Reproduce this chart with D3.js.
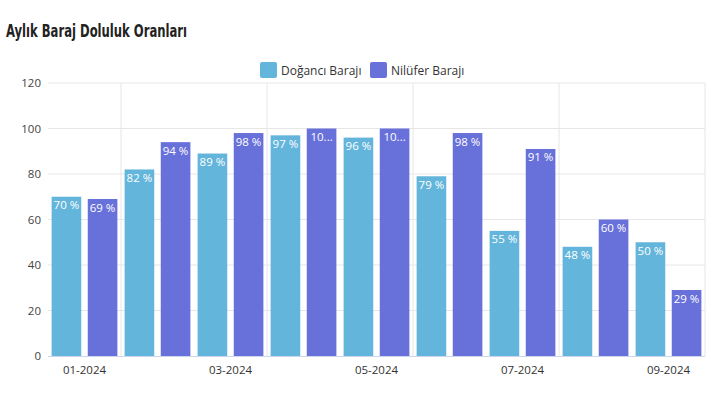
<!DOCTYPE html>
<html>
<head>
<meta charset="utf-8">
<script src="https://cdn.jsdelivr.net/npm/d3@7"></script>
<style>
  body { margin: 0; background: #fff; }
  svg { font-family: "Open Sans", "Noto Sans", sans-serif; }
</style>
</head>
<body>
<div id="chart"></div>
<script>
const months = ["01-2024", "02-2024", "03-2024", "04-2024", "05-2024", "06-2024", "07-2024", "08-2024", "09-2024"];
const seriesNames = ["Doğancı Barajı", "Nilüfer Barajı"];
const dogancı = [70, 82, 89, 97, 96, 79, 55, 48, 50];
const nilufer = [69, 94, 98, 100, 100, 98, 91, 60, 29];
const yTicks = [0, 20, 40, 60, 80, 100, 120];
const colors = ["#64b5db", "#6870da"];

const width = 720, height = 416;
const margin = { top: 83, right: 15, bottom: 60, left: 48 };

const svg = d3.select("#chart").append("svg")
    .attr("width", width)
    .attr("height", height);

// title
svg.append("text")
    .attr("x", 6)
    .attr("y", 37)
    .attr("font-family", "'Liberation Sans Narrow', 'DejaVu Sans Condensed', sans-serif")
    .attr("font-weight", "bold")
    .attr("font-size", 17.5)
    .attr("fill", "#222")
    .attr("textLength", 181)
    .attr("lengthAdjust", "spacingAndGlyphs")
    .text("Aylık Baraj Doluluk Oranları");

const x = d3.scaleBand()
    .domain(months)
    .range([margin.left, width - margin.right]);

const xInner = d3.scaleBand()
    .domain(seriesNames)
    .range([0, x.bandwidth()])
    .paddingInner(0.18)
    .paddingOuter(0.1);

const y = d3.scaleLinear()
    .domain([0, 120])
    .range([height - margin.bottom, margin.top]);

// horizontal grid
svg.append("g")
    .selectAll("line")
    .data(yTicks.filter(d => d > 0))
    .enter().append("line")
    .attr("x1", margin.left)
    .attr("x2", width - margin.right)
    .attr("y1", d => y(d))
    .attr("y2", d => y(d))
    .attr("stroke", "#e6e6e6")
    .attr("stroke-width", 1);

// vertical grid at every second month boundary
svg.append("g")
    .selectAll("line")
    .data(months.filter((d, i) => i % 2 === 0))
    .enter().append("line")
    .attr("x1", d => x(d) + x.bandwidth())
    .attr("x2", d => x(d) + x.bandwidth())
    .attr("y1", y(120))
    .attr("y2", y(0))
    .attr("stroke", "#e6e6e6")
    .attr("stroke-width", 1);

// y labels
svg.append("g")
    .selectAll("text")
    .data(yTicks)
    .enter().append("text")
    .attr("x", 41)
    .attr("y", d => y(d) + 4)
    .attr("text-anchor", "end")
    .attr("font-size", 11.5)
    .attr("fill", "#444")
    .text(d => d);

// bars
const data = months.map((m, i) => ({ month: m, values: [dogancı[i], nilufer[i]] }));

const group = svg.append("g")
    .selectAll("g")
    .data(data)
    .enter().append("g")
    .attr("transform", d => `translate(${x(d.month)},0)`);

const bars = group.selectAll("g")
    .data(d => d.values.map((v, j) => ({ name: seriesNames[j], value: v, color: colors[j] })))
    .enter().append("g");

bars.append("rect")
    .attr("x", d => xInner(d.name))
    .attr("width", xInner.bandwidth())
    .attr("y", d => y(d.value))
    .attr("height", d => y(0) - y(d.value))
    .attr("fill", d => d.color);

bars.append("text")
    .attr("x", d => xInner(d.name) + xInner.bandwidth() / 2)
    .attr("y", d => y(d.value) + 12.5)
    .attr("text-anchor", "middle")
    .attr("font-size", 11.5)
    .attr("fill", "#fff")
    .text(d => d.value + " %")
    .each(function() {
        // truncate like the original when the label does not fit
        const node = d3.select(this);
        let txt = node.text();
        if (this.getComputedTextLength() > xInner.bandwidth() - 2) {
            while (txt.length > 1) {
                txt = txt.slice(0, -1);
                node.text(txt + "...");
                if (this.getComputedTextLength() <= xInner.bandwidth() - 6) break;
            }
        }
    });

// baseline
svg.append("line")
    .attr("x1", margin.left)
    .attr("x2", width - margin.right)
    .attr("y1", y(0) + 0.5)
    .attr("y2", y(0) + 0.5)
    .attr("stroke", "#ccd6eb")
    .attr("stroke-width", 1);

// x labels
svg.append("g")
    .selectAll("text")
    .data(months.filter((d, i) => i % 2 === 0))
    .enter().append("text")
    .attr("x", d => x(d) + x.bandwidth() / 2)
    .attr("y", 374)
    .attr("text-anchor", "middle")
    .attr("font-size", 11.5)
    .attr("fill", "#333")
    .text(d => d);

// legend
const legendX = [260, 370];
const legend = svg.append("g")
    .selectAll("g")
    .data(seriesNames)
    .enter().append("g")
    .attr("transform", (d, i) => `translate(${legendX[i]},62)`);

legend.append("rect")
    .attr("width", 17)
    .attr("height", 16)
    .attr("rx", 2)
    .attr("fill", (d, i) => colors[i]);

legend.append("text")
    .attr("x", 21)
    .attr("y", 12.5)
    .attr("font-size", 12)
    .attr("fill", "#333")
    .text(d => d);
</script>
</body>
</html>
